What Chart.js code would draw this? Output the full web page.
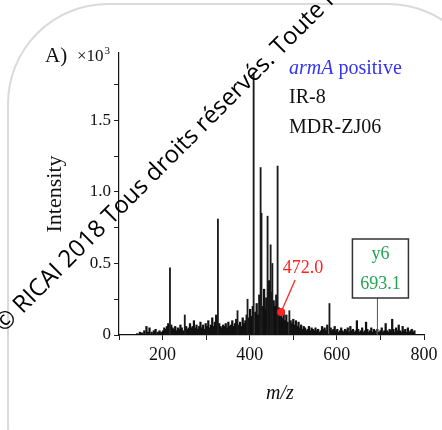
<!DOCTYPE html>
<html>
<head>
<meta charset="utf-8">
<script src="https://cdn.jsdelivr.net/npm/chart.js@4.4.1/dist/chart.umd.min.js"></script>
<style>
  html, body { margin: 0; padding: 0; background: #fff; overflow: hidden; }
</style>
</head>
<body>
<canvas id="spectrum" width="442" height="430"></canvas>
<script>
// main peaks (m/z, intensity x10^3)
const PEAK_MZ = [217, 251, 327, 372, 395, 409, 425, 427, 441, 448, 452, 464, 491, 583];
const PEAK_INT = [0.47, 0.14, 0.81, 0.17, 0.25, 1.83, 1.17, 0.85, 0.83, 0.63, 0.5, 1.18, 0.17, 0.22];

// background noise
const NOISE_MZ = [
  142, 148, 153, 158, 163, 166, 170, 175, 180, 184, 189, 193, 197,
  201, 204, 207, 210, 213, 220, 223, 226, 229, 232, 235, 238, 241, 244, 247, 254, 257, 260,
  263, 266, 269, 272, 275, 278, 281, 284, 287, 290, 293, 296, 299, 302, 305, 308, 311, 314, 317, 320, 323, 330, 333, 336, 339,
  342, 345, 348, 351, 354, 357, 360, 363, 366, 369, 375, 378, 381, 384, 387, 390, 393, 398, 401, 404, 407,
  413, 416, 419, 422, 430, 433, 436, 438, 444, 446, 450, 455, 458, 461, 467, 470, 472, 475, 478, 481, 484, 487, 494, 497, 500,
  503, 506, 509, 512, 515, 518, 521, 524, 527, 530, 533, 536, 539, 542, 545, 548, 551, 554, 557, 560,
  563, 566, 569, 572, 575, 578, 586, 589, 592, 595, 598, 601, 604, 607, 610, 613, 616, 619, 622, 625, 628, 631, 634, 637, 640,
  643, 646, 649, 652, 655, 658, 661, 664, 667, 670, 673, 676, 679, 682, 685, 688, 693, 697, 700, 703, 706, 709, 712, 715, 718,
  721, 724, 727, 730, 733, 736, 739, 742, 745, 748, 751, 754, 757, 760, 763, 766, 769, 772, 775, 778
];
const NOISE_INT = [
  0.01, 0.02, 0.015, 0.03, 0.06, 0.02, 0.05, 0.02, 0.03, 0.04, 0.02, 0.03, 0.02,
  0.03, 0.05, 0.04, 0.06, 0.08, 0.07, 0.05, 0.04, 0.06, 0.03, 0.05, 0.04, 0.07, 0.05, 0.03, 0.06, 0.04, 0.05,
  0.08, 0.05, 0.06, 0.1, 0.05, 0.07, 0.04, 0.06, 0.09, 0.05, 0.07, 0.04, 0.08, 0.06, 0.1, 0.05, 0.07, 0.12, 0.06, 0.09, 0.14, 0.08, 0.06, 0.05, 0.07,
  0.06, 0.08, 0.05, 0.09, 0.06, 0.07, 0.1, 0.06, 0.08, 0.11, 0.07, 0.09, 0.06, 0.12, 0.08, 0.1, 0.14, 0.12, 0.18, 0.13, 0.2,
  0.16, 0.22, 0.14, 0.28, 0.2, 0.32, 0.18, 0.26, 0.38, 0.22, 0.3, 0.24, 0.2, 0.28, 0.19, 0.15, 0.16, 0.12, 0.17, 0.1, 0.14, 0.09, 0.1, 0.08, 0.11,
  0.07, 0.1, 0.06, 0.09, 0.05, 0.07, 0.04, 0.06, 0.05, 0.03, 0.04, 0.06, 0.03, 0.05, 0.04, 0.03, 0.05, 0.03, 0.04, 0.02,
  0.03, 0.06, 0.04, 0.05, 0.03, 0.07, 0.05, 0.03, 0.04, 0.06, 0.03, 0.04, 0.02, 0.03, 0.05, 0.03, 0.02, 0.04, 0.03, 0.05, 0.02, 0.06, 0.03, 0.04, 0.02,
  0.03, 0.1, 0.04, 0.02, 0.03, 0.05, 0.02, 0.03, 0.09, 0.04, 0.02, 0.03, 0.05, 0.02, 0.04, 0.03, 0.04, 0.02, 0.03, 0.05, 0.02, 0.03, 0.08, 0.03, 0.02,
  0.04, 0.03, 0.11, 0.04, 0.02, 0.05, 0.03, 0.07, 0.03, 0.02, 0.06, 0.03, 0.04, 0.02, 0.05, 0.02, 0.03, 0.04, 0.02, 0.03
];

const MARKED_MZ = [472.0];
const MARKED_INT = [0.16];

const Y_TICKS = ["0", "0.5", "1.0", "1.5"];
const X_TICKS = ["200", "400", "600", "800"];

const SERIF = "'Liberation Serif', 'DejaVu Serif', serif";

const toPoints = (xs, ys) => xs.map((x, i) => ({ x: x, y: ys[i] }));

const decor = {
  id: "decor",
  beforeDraw(chart) {
    const ctx = chart.ctx;
    ctx.save();
    ctx.fillStyle = "#fff";
    ctx.fillRect(0, 0, chart.width, chart.height);
    // slide frame behind the figure
    ctx.strokeStyle = "#dadada";
    ctx.lineWidth = 2;
    ctx.beginPath();
    ctx.roundRect(8, 4, 480, 520, 100);
    ctx.stroke();
    ctx.restore();
  },
  afterDatasetsDraw(chart) {
    const { ctx, scales: { x, y } } = chart;
    ctx.save();

    // 472.0 callout
    const px = x.getPixelForValue(MARKED_MZ[0]);
    const py = y.getPixelForValue(MARKED_INT[0]);
    ctx.strokeStyle = "#ff2a2a";
    ctx.lineWidth = 1.3;
    ctx.beginPath();
    ctx.moveTo(px, py);
    ctx.lineTo(px + 14, py - 32);
    ctx.stroke();
    ctx.fillStyle = "#ff2020";
    ctx.font = "18px " + SERIF;
    ctx.textAlign = "center";
    ctx.textBaseline = "middle";
    ctx.fillText("472.0", px + 22, py - 44);

    // y6 box with leader down to 693.1
    const bx = x.getPixelForValue(693.1);
    const base = y.getPixelForValue(0);
    ctx.strokeStyle = "#555";
    ctx.lineWidth = 1;
    ctx.beginPath();
    ctx.moveTo(bx, base);
    ctx.lineTo(bx, 298);
    ctx.stroke();
    ctx.strokeStyle = "#333";
    ctx.lineWidth = 1.5;
    ctx.strokeRect(bx - 25, 239, 56, 59);
    ctx.fillStyle = "#22a552";
    ctx.fillText("y6", bx + 3, 254);
    ctx.fillText("693.1", bx + 3, 284);
    ctx.restore();
  },
  afterDraw(chart) {
    const ctx = chart.ctx;
    ctx.save();
    ctx.textBaseline = "alphabetic";
    ctx.textAlign = "left";

    // panel label and exponent
    ctx.fillStyle = "#111";
    ctx.font = "21px " + SERIF;
    ctx.fillText("A)", 45, 62);
    ctx.font = "17px " + SERIF;
    ctx.fillText("\u00d710", 77, 61);
    const ew = ctx.measureText("\u00d710").width;
    ctx.font = "11px " + SERIF;
    ctx.fillText("3", 78 + ew, 54);

    // sample legend
    ctx.font = "italic 20px " + SERIF;
    ctx.fillStyle = "#3434f0";
    ctx.fillText("armA", 289, 74);
    const w = ctx.measureText("armA ").width;
    ctx.font = "20px " + SERIF;
    ctx.fillText("positive", 289 + w, 74);
    ctx.fillStyle = "#111";
    ctx.fillText("IR-8", 289, 103);
    ctx.fillText("MDR-ZJ06", 289, 133);

    // x axis title
    ctx.font = "italic 20px " + SERIF;
    ctx.textAlign = "center";
    ctx.fillText("m/z", 280, 399);

    // copyright watermark
    ctx.translate(4, 333);
    ctx.rotate(-Math.PI / 4);
    ctx.textAlign = "left";
    ctx.font = "24px 'Open Sans', 'Noto Sans', sans-serif";
    ctx.fillStyle = "#000";
    ctx.fillText("\u00a9 RICAI 2018 Tous droits r\u00e9serv\u00e9s. Toute reproduction interdite", 0, 0);
    ctx.restore();
  }
};

new Chart(document.getElementById("spectrum"), {
  type: "bar",
  data: {
    datasets: [
      {
        label: "peaks",
        data: toPoints(PEAK_MZ, PEAK_INT),
        backgroundColor: "#1c1c1c",
        barThickness: 1.2,
        grouped: false,
        order: 2
      },
      {
        label: "noise",
        data: toPoints(NOISE_MZ, NOISE_INT),
        backgroundColor: "#111",
        barThickness: 1.6,
        grouped: false,
        order: 3
      },
      {
        type: "scatter",
        label: "472.0",
        data: toPoints(MARKED_MZ, MARKED_INT),
        backgroundColor: "#ff2020",
        borderWidth: 0,
        pointRadius: 4,
        order: 1
      }
    ]
  },
  options: {
    responsive: false,
    animation: false,
    layout: { padding: { left: 0, right: 18, top: 53, bottom: 0 } },
    plugins: { legend: { display: false }, tooltip: { enabled: false } },
    scales: {
      x: {
        type: "linear",
        min: 100,
        max: 800,
        offset: false,
        afterFit: (s) => { s.height = 95; },
        ticks: {
          stepSize: 100,
          autoSkip: false,
          maxRotation: 0,
          padding: 4,
          color: "#111",
          font: { family: SERIF, size: 18 },
          callback: (v) => (v % 200 === 0 ? X_TICKS[v / 200 - 1] : "")
        },
        grid: { drawOnChartArea: false, offset: false, tickLength: 5, color: "#222" },
        border: { color: "#111", width: 1.2 }
      },
      y: {
        min: 0,
        max: 1.97,
        afterFit: (s) => { s.width = 119; },
        ticks: {
          stepSize: 0.25,
          includeBounds: false,
          padding: 3,
          color: "#111",
          font: { family: SERIF, size: 17 },
          callback: (v) => {
            const k = Math.round(v * 4);
            return k % 2 === 0 ? Y_TICKS[k / 2] : "";
          }
        },
        grid: { drawOnChartArea: false, tickLength: 5, color: "#222" },
        border: { color: "#111", width: 1.2 },
        title: {
          display: true,
          text: "Intensity",
          color: "#111",
          font: { family: SERIF, size: 22 },
          padding: { top: 42, bottom: 0 }
        }
      }
    }
  },
  plugins: [decor]
});
</script>
</body>
</html>
